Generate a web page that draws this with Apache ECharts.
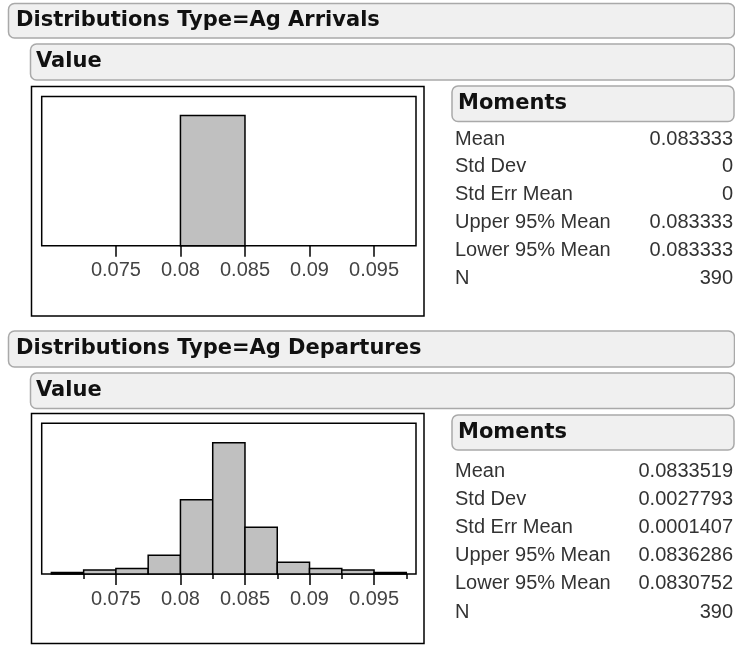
<!DOCTYPE html>
<html>
<head>
<meta charset="utf-8">
<script src="https://cdn.jsdelivr.net/npm/echarts@6/dist/echarts.min.js"></script>
<style>
  html, body { margin: 0; padding: 0; background: #ffffff; }
  #chart { width: 735px; height: 645px; }
</style>
</head>
<body>
<div id="chart"></div>
<script>
// Histogram bins: [lower edge, upper edge, count]
const arrivalsBins = [
  [0.080, 0.085, 390]
];
const departuresBins = [
  [0.0700, 0.0725, 2],
  [0.0725, 0.0750, 5],
  [0.0750, 0.0775, 7],
  [0.0775, 0.0800, 24],
  [0.0800, 0.0825, 95],
  [0.0825, 0.0850, 168],
  [0.0850, 0.0875, 60],
  [0.0875, 0.0900, 15],
  [0.0900, 0.0925, 7],
  [0.0925, 0.0950, 5],
  [0.0950, 0.0975, 2]
];

// Axis ticks
const tickValues = [0.075, 0.08, 0.085, 0.09, 0.095];
const departuresMinorTicks = [0.0725, 0.0825, 0.0875, 0.0925, 0.0975];
const axisMin = 0.06925;
const axisMax = 0.09825;
const arrivalsCountMax = 447;
const departuresCountMax = 193;

// Moments tables
const momentLabels = ['Mean', 'Std Dev', 'Std Err Mean', 'Upper 95% Mean', 'Lower 95% Mean', 'N'];
const arrivalsMoments = ['0.083333', '0', '0', '0.083333', '0.083333', '390'];
const departuresMoments = ['0.0833519', '0.0027793', '0.0001407', '0.0836286', '0.0830752', '390'];

// Section titles
const sectionTitles = ['Distributions Type=Ag Arrivals', 'Distributions Type=Ag Departures'];
const columnTitle = 'Value';
const momentsTitle = 'Moments';

const BOLD_FONT = '"DejaVu Sans", sans-serif';
const BODY_FONT = '"Liberation Sans", Arial, sans-serif';

function panelBox(x, y, w, h) {
  return {
    type: 'rect', silent: true,
    shape: { x: x, y: y, width: w, height: h, r: 6 },
    style: { fill: '#f0f0f0', stroke: '#a9a9a9', lineWidth: 1.5 }
  };
}
function boldText(str, x, y) {
  return {
    type: 'text', silent: true, x: x, y: y,
    style: { text: str, font: 'bold 21px ' + BOLD_FONT, fill: '#111', textVerticalAlign: 'middle' }
  };
}
function momentsRows(values, top, step) {
  const out = [];
  momentLabels.forEach(function (lab, i) {
    const cy = top + i * step;
    out.push({ type: 'text', silent: true, x: 455, y: cy,
      style: { text: lab, font: '20px ' + BODY_FONT, fill: '#333', textVerticalAlign: 'middle' } });
    out.push({ type: 'text', silent: true, x: 733, y: cy,
      style: { text: values[i], font: '20px ' + BODY_FONT, fill: '#333', textAlign: 'right', textVerticalAlign: 'middle' } });
  });
  return out;
}

const graphics = [].concat(
  // Section one
  panelBox(8.5, 3.5, 726, 34.5),
  boldText(sectionTitles[0], 16, 20.5),
  panelBox(30.5, 44, 704, 36),
  boldText(columnTitle, 36, 62),
  { type: 'rect', silent: true, shape: { x: 31.5, y: 86.5, width: 392.5, height: 229.5 },
    style: { fill: 'none', stroke: '#000', lineWidth: 1.5 } },
  panelBox(452, 86, 282, 35.5),
  boldText(momentsTitle, 458, 103.5),
  momentsRows(arrivalsMoments, 139, 27.8),
  // Section two
  panelBox(8.5, 331, 726, 36),
  boldText(sectionTitles[1], 16, 349),
  panelBox(30.5, 373, 704, 35.5),
  boldText(columnTitle, 36, 391),
  { type: 'rect', silent: true, shape: { x: 31.5, y: 413.5, width: 392.5, height: 230 },
    style: { fill: 'none', stroke: '#000', lineWidth: 1.5 } },
  panelBox(452, 415, 282, 35),
  boldText(momentsTitle, 458, 432.5),
  momentsRows(departuresMoments, 471, 28.2)
);

function renderBin(params, api) {
  const p0 = api.coord([api.value(0), 0]);
  const p1 = api.coord([api.value(1), api.value(2)]);
  return {
    type: 'rect',
    shape: { x: p0[0], y: p1[1], width: p1[0] - p0[0], height: p0[1] - p1[1] },
    style: { fill: '#c0c0c0', stroke: '#000', lineWidth: 1.5 }
  };
}

function mainXAxis(gridIndex) {
  return {
    type: 'value', gridIndex: gridIndex, min: axisMin, max: axisMax,
    position: 'bottom',
    axisLine: { show: false },
    splitLine: { show: false },
    axisTick: { show: true, length: 11, customValues: tickValues,
      lineStyle: { color: '#000', width: 1.5 } },
    axisLabel: { show: true, customValues: tickValues, margin: 15,
      color: '#444', fontSize: 20, fontFamily: BODY_FONT,
      formatter: function (v) { return String(v); } }
  };
}

const option = {
  animation: false,
  backgroundColor: '#ffffff',
  graphic: graphics,
  grid: [
    { left: 41.7, top: 96.5, width: 374.3, height: 149.2, show: true,
      backgroundColor: '#fff', borderColor: '#000', borderWidth: 1.5 },
    { left: 41.7, top: 423.3, width: 374.3, height: 150.7, show: true,
      backgroundColor: '#fff', borderColor: '#000', borderWidth: 1.5 }
  ],
  xAxis: [
    mainXAxis(0),
    mainXAxis(1),
    {
      type: 'value', gridIndex: 1, min: axisMin, max: axisMax, position: 'bottom',
      axisLine: { show: false }, splitLine: { show: false },
      axisTick: { show: true, length: 5, customValues: departuresMinorTicks,
        lineStyle: { color: '#000', width: 1.5 } },
      axisLabel: { show: false }
    }
  ],
  yAxis: [
    { type: 'value', gridIndex: 0, min: 0, max: arrivalsCountMax, show: false },
    { type: 'value', gridIndex: 1, min: 0, max: departuresCountMax, show: false }
  ],
  series: [
    { type: 'custom', xAxisIndex: 0, yAxisIndex: 0, renderItem: renderBin,
      encode: { x: [0, 1], y: 2 }, data: arrivalsBins, silent: true },
    { type: 'custom', xAxisIndex: 1, yAxisIndex: 1, renderItem: renderBin,
      encode: { x: [0, 1], y: 2 }, data: departuresBins, silent: true }
  ]
};

const chart = echarts.init(document.getElementById('chart'), null, { renderer: 'canvas' });
chart.setOption(option);
</script>
</body>
</html>
